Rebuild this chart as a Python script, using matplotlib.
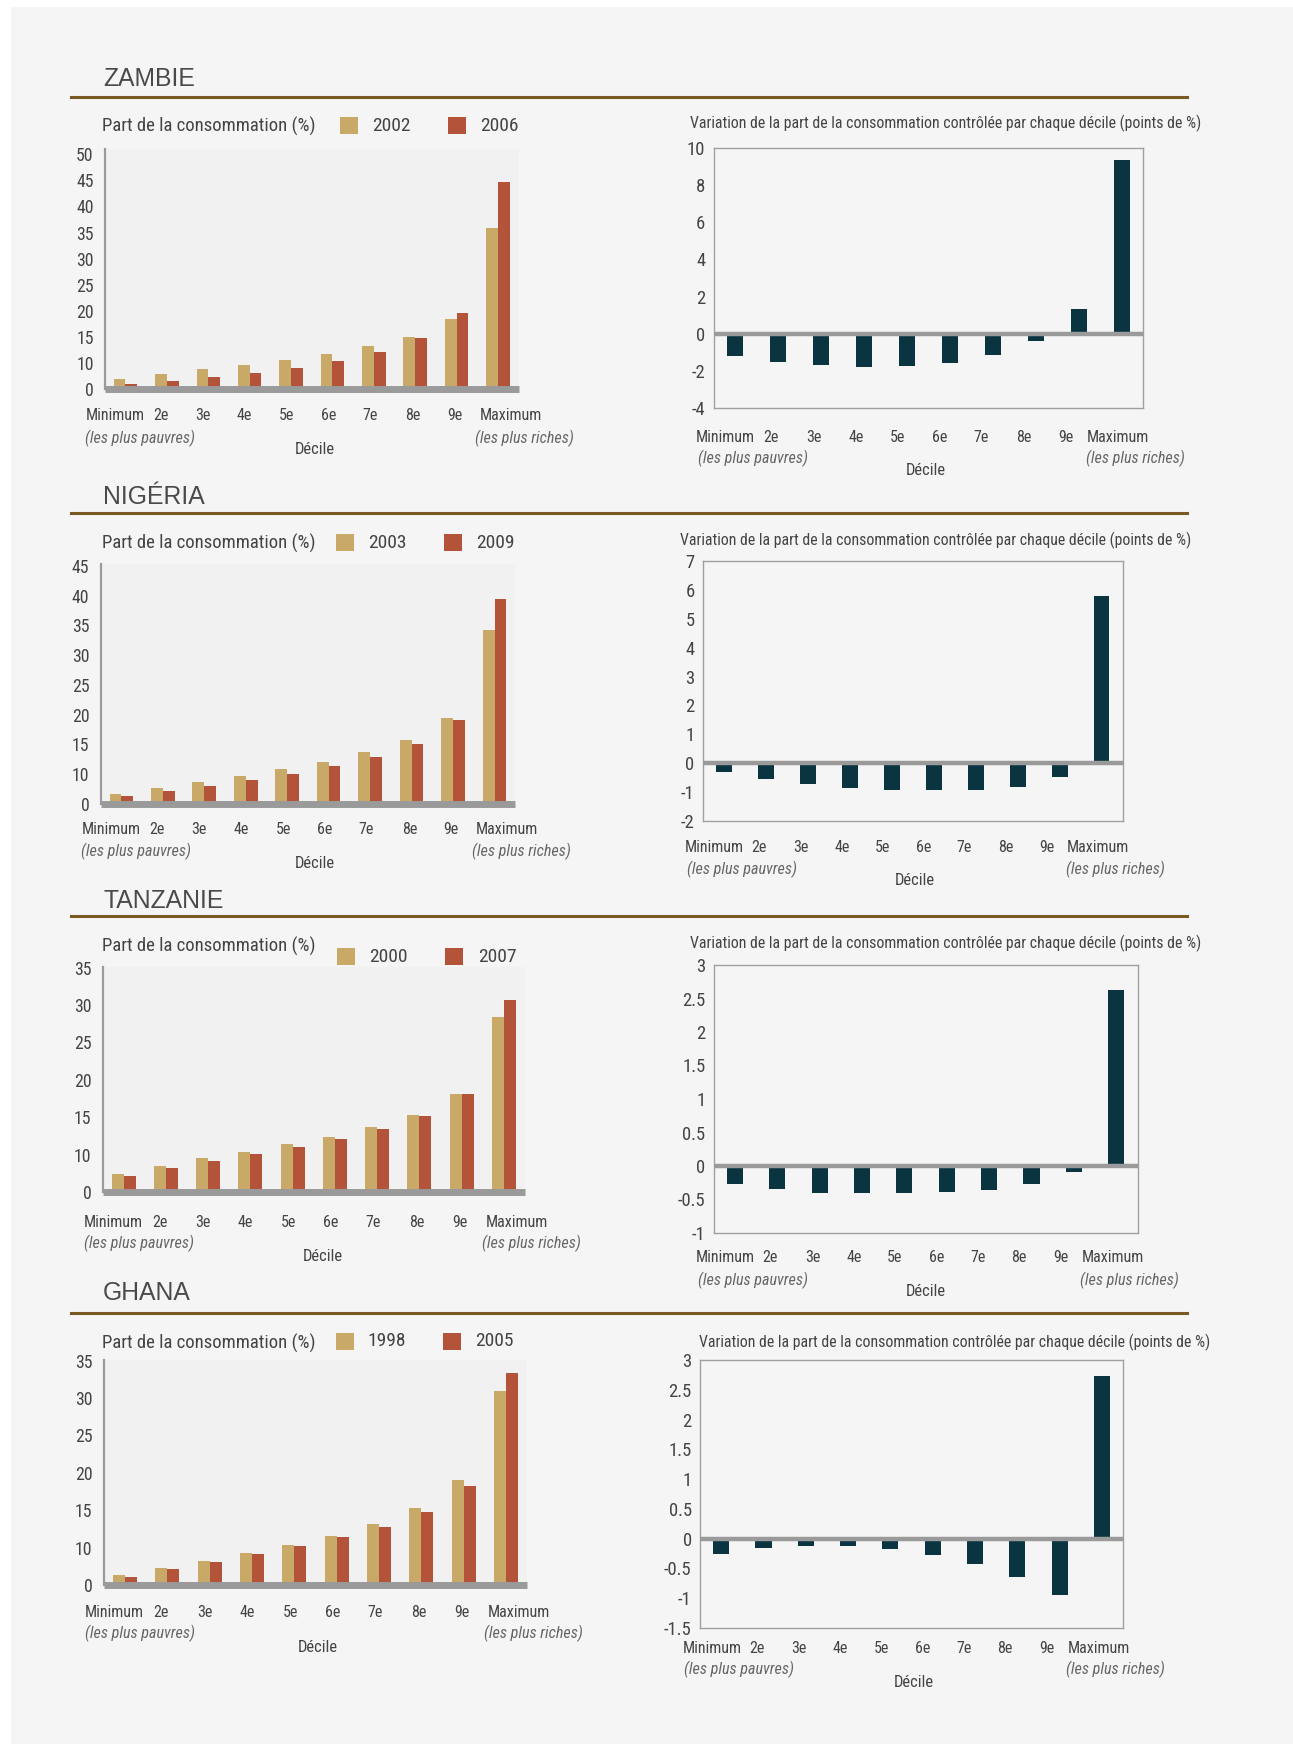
import numpy as np
import matplotlib
matplotlib.use("Agg")
from matplotlib import pyplot as plt
from matplotlib import font_manager
from matplotlib.patches import Rectangle
from matplotlib.transforms import blended_transform_factory

# police étroite si disponible, sinon Liberation Sans
names = {f.name for f in font_manager.fontManager.ttflist}
narrow = 'Liberation Sans'
for cand in ['Roboto Condensed', 'Liberation Sans Narrow', 'Open Sans Condensed', 'Arial Narrow',
             'DejaVu Sans Condensed', 'Noto Sans Condensed']:
    if cand in names:
        narrow = cand
        break
plt.rcParams['font.family'] = [narrow, 'DejaVu Sans']

deciles = ['Minimum', '2e', '3e', '4e', '5e', '6e', '7e', '8e', '9e', 'Maximum']
pays = ['ZAMBIE', 'NIGÉRIA', 'TANZANIE', 'GHANA']
annees = [('2002', '2006'), ('2003', '2009'), ('2000', '2007'), ('1998', '2005')]

zambie_a = [7.0, 7.9, 8.8, 9.7, 10.7, 11.8, 13.2, 15.1, 18.4, 35.9]
zambie_b = [6.0, 6.5, 7.3, 8.1, 9.1, 10.4, 12.1, 14.8, 19.7, 44.6]
nigeria_a = [6.7, 7.7, 8.7, 9.7, 10.86, 12.1, 13.7, 15.8, 19.5, 34.2]
nigeria_b = [6.4, 7.25, 8.1, 9.06, 10.07, 11.3, 12.94, 15.14, 19.1, 39.5]
tanzanie_a = [7.44, 8.5, 9.5, 10.4, 11.36, 12.4, 13.66, 15.33, 18.17, 28.45]
tanzanie_b = [7.2, 8.25, 9.15, 10.1, 11.04, 12.08, 13.39, 15.15, 18.08, 30.7]
ghana_a = [6.3, 7.25, 8.23, 9.26, 10.33, 11.6, 13.1, 15.3, 19.1, 30.9]
ghana_b = [6.08, 7.1, 8.14, 9.17, 10.2, 11.4, 12.8, 14.8, 18.26, 33.3]

# variation (points de %)
zambie_var = [-1.2, -1.5, -1.7, -1.78, -1.74, -1.56, -1.16, -0.38, 1.34, 9.38]
nigeria_var = [-0.31, -0.56, -0.72, -0.85, -0.92, -0.94, -0.93, -0.82, -0.49, 5.78]
tanzanie_var = [-0.265, -0.34, -0.40, -0.40, -0.41, -0.39, -0.36, -0.265, -0.09, 2.62]
ghana_var = [-0.25, -0.15, -0.12, -0.12, -0.17, -0.28, -0.43, -0.64, -0.95, 2.73]

# axes gauche : ticks (le "0" de l'original est placé au cran 5)
left_ticks = [[5, 10, 15, 20, 25, 30, 35, 40, 45, 50],
              [5, 10, 15, 20, 25, 30, 35, 40, 45],
              [5, 10, 15, 20, 25, 30, 35],
              [5, 10, 15, 20, 25, 30, 35]]
right_ticks = [[-4, -2, 0, 2, 4, 6, 8, 10],
               [-2, -1, 0, 1, 2, 3, 4, 5, 6, 7],
               [-1, -0.5, 0, 0.5, 1, 1.5, 2, 2.5, 3],
               [-1.5, -1, -0.5, 0, 0.5, 1, 1.5, 2, 2.5, 3]]

parts = [(zambie_a, zambie_b), (nigeria_a, nigeria_b), (tanzanie_a, tanzanie_b), (ghana_a, ghana_b)]
variations = [zambie_var, nigeria_var, tanzanie_var, ghana_var]

W, H = 1293, 1744
TAN = '#c9a968'
RED = '#b3543a'
TEAL = '#0b3441'
GRAY = '#9a9a9a'
TXT = '#444444'
PAGE = '#f4f5f4'
RULE = '#7a5a22'
TITRE_D = 'Variation de la part de la consommation contrôlée par chaque décile (points de %)'

fig = plt.figure(figsize=(W / 100, H / 100), dpi=100)
fig.patch.set_facecolor('white')
fig.add_artist(Rectangle((11 / W, 0), 1, 1 - 7 / H, transform=fig.transFigure,
                         facecolor=PAGE, edgecolor='none', zorder=0))
renderer = fig.canvas.get_renderer()


def fit(s, target, size0=12, **kw):
    # taille de police pour que le texte fasse `target` pixels de large
    t = fig.text(0, 0, s, fontsize=size0, **kw)
    w = t.get_window_extent(renderer).width
    t.remove()
    return size0 * target / w


fs_part = fit('Part de la consommation (%)', 213)
fs_rt = fit(TITRE_D, 514)
fs_lbl = fit('Minimum', 59)
fs_it = fit('(les plus pauvres)', 110, style='italic')
fs_dec = fit('Décile', 40)
fs_year = fit('2002', 38)
fs_tick = fit('50', 17.5)
fs_pays = fit('ZAMBIE', 92, family='Liberation Sans')


def fx(px):
    return px / W


def fy(py):
    return 1 - py / H


rows = [
    dict(t=79, rule=97, lab=126, sq=126, L=(104.8, 518.7, 149, 389.3), ltop=51.0, xl=416, it=438,
         dec=(314.8, 450), R=(713.6, 1143.2, 148, 408), rt=(690.4, 123), rxl=437, rit=458, rdec=(926, 470),
         leg=(340, 371.7, 448, 480)),
    dict(t=497, rule=513, lab=543, sq=543, L=(100.6, 515.3, 564, 804), ltop=45.3, xl=829, it=851,
         dec=(314.8, 863), R=(702.9, 1122.5, 561, 821), rt=(679.6, 540), rxl=847, rit=869, rdec=(914.6, 880),
         leg=(335.5, 368.2, 444, 476)),
    dict(t=901, rule=916, lab=946, sq=957, L=(102.7, 524.9, 967, 1192), ltop=35.1, xl=1222, it=1243,
         dec=(322.4, 1256), R=(713.6, 1137.5, 965, 1233), rt=(690.4, 943), rxl=1257, rit=1280, rdec=(926, 1291),
         leg=(337.2, 369.2, 445, 477.7)),
    dict(t=1293, rule=1313, lab=1343, sq=1341, L=(103.7, 527.3, 1360, 1585), ltop=35.1, xl=1612, it=1633,
         dec=(318.3, 1647), R=(700, 1123.2, 1360, 1628), rt=(698.6, 1342), rxl=1648, rit=1669, rdec=(914.3, 1682),
         leg=(335.5, 367.5, 443.3, 475.3)),
]

left_lbl_x = [-0.25, 0.85, 1.88, 2.88, 3.9, 4.9, 5.9, 6.95, 7.95, 9.3]
right_lbl_x = [-0.22, 0.84, 1.84, 2.81, 3.78, 4.76, 5.73, 6.71, 7.7, 8.92]
x = np.arange(len(deciles))

for k, r in enumerate(rows):
    # titre pays + règle
    fig.text(fx(103), fy(r['t']), pays[k], fontsize=fs_pays, color='#4a4a4a', family='Liberation Sans',
             va='center', ha='left')
    fig.add_artist(plt.Line2D([fx(71), fx(1187)], [fy(r['rule']), fy(r['rule'])], color=RULE, lw=2.2))

    # ---- graphique gauche ----
    x0, x1, yt, yb = r['L']
    ax = fig.add_axes([fx(x0), fy(yb), fx(x1 - x0), (yb - yt) / H])
    ax.set_facecolor('#f1f1f1')
    a, b = parts[k]
    ax.bar(x - 0.142, a, width=0.284, color=TAN, zorder=2)
    ax.bar(x + 0.142, b, width=0.284, color=RED, zorder=2)
    ax.set_xlim(-0.5, 9.5)
    ax.set_ylim(5, r['ltop'])
    ax.set_yticks(left_ticks[k])
    ax.set_yticklabels(['0'] + [str(v) for v in left_ticks[k][1:]])
    ax.tick_params(axis='y', length=0, pad=8, labelsize=fs_tick, labelcolor=TXT)
    ax.set_xticks([])
    for s in ['top', 'right']:
        ax.spines[s].set_visible(False)
    ax.spines['left'].set_color(GRAY)
    ax.spines['left'].set_linewidth(1.6)
    ax.spines['bottom'].set_color(GRAY)
    ax.spines['bottom'].set_linewidth(5)
    ax.spines['bottom'].set_capstyle('butt')

    tr = blended_transform_factory(ax.transData, fig.transFigure)
    for xi, lbl in zip(left_lbl_x, deciles):
        ax.text(xi, fy(r['xl']), lbl, transform=tr, ha='center', va='center', fontsize=fs_lbl, color=TXT)
    ax.text(0.36, fy(r['it']), '(les plus pauvres)', transform=tr, ha='center', va='center',
            fontsize=fs_it, style='italic', color='#666666')
    ax.text(9.65, fy(r['it']), '(les plus riches)', transform=tr, ha='center', va='center',
            fontsize=fs_it, style='italic', color='#666666')
    fig.text(fx(r['dec'][0]), fy(r['dec'][1]), 'Décile', ha='center', va='center', fontsize=fs_dec, color=TXT)

    # titre + légende
    fig.text(fx(102), fy(r['lab']), 'Part de la consommation (%)', ha='left', va='center',
             fontsize=fs_part, color=TXT)
    s1, t1, s2, t2 = r['leg']
    for sx, tx, col, yr in [(s1, t1, TAN, annees[k][0]), (s2, t2, RED, annees[k][1])]:
        fig.add_artist(Rectangle((fx(sx), fy(r['sq'] + 8.5)), fx(18), 17 / H, transform=fig.transFigure,
                                 facecolor=col, edgecolor='none'))
        fig.text(fx(tx), fy(r['sq']), yr, ha='left', va='center', fontsize=fs_year, color=TXT)

    # ---- graphique droite ----
    x0, x1, yt, yb = r['R']
    axr = fig.add_axes([fx(x0), fy(yb), fx(x1 - x0), (yb - yt) / H])
    axr.set_facecolor(PAGE)
    axr.bar(x, variations[k], width=0.38, color=TEAL, zorder=2)
    axr.axhline(0, color=GRAY, lw=3.2, zorder=3)
    axr.set_xlim(-0.5, 9.5)
    axr.set_ylim(right_ticks[k][0], right_ticks[k][-1])
    axr.set_yticks(right_ticks[k])
    axr.set_yticklabels(['%g' % v for v in right_ticks[k]])
    axr.tick_params(axis='y', length=0, pad=6, labelsize=fs_tick * 1.05, labelcolor=TXT)
    axr.set_xticks([])
    for s in axr.spines.values():
        s.set_color('#a0a0a0')
        s.set_linewidth(1.0)

    trr = blended_transform_factory(axr.transData, fig.transFigure)
    for xi, lbl in zip(right_lbl_x, deciles):
        axr.text(xi, fy(r['rxl']), lbl, transform=trr, ha='center', va='center', fontsize=fs_lbl, color=TXT)
    axr.text(0.42, fy(r['rit']), '(les plus pauvres)', transform=trr, ha='center', va='center',
             fontsize=fs_it, style='italic', color='#666666')
    axr.text(9.32, fy(r['rit']), '(les plus riches)', transform=trr, ha='center', va='center',
             fontsize=fs_it, style='italic', color='#666666')
    fig.text(fx(r['rdec'][0]), fy(r['rdec'][1]), 'Décile', ha='center', va='center', fontsize=fs_dec, color=TXT)
    fig.text(fx(r['rt'][0]), fy(r['rt'][1]), TITRE_D, ha='left', va='center', fontsize=fs_rt, color=TXT)

fig.savefig('out.png', dpi=100, facecolor=fig.get_facecolor())
